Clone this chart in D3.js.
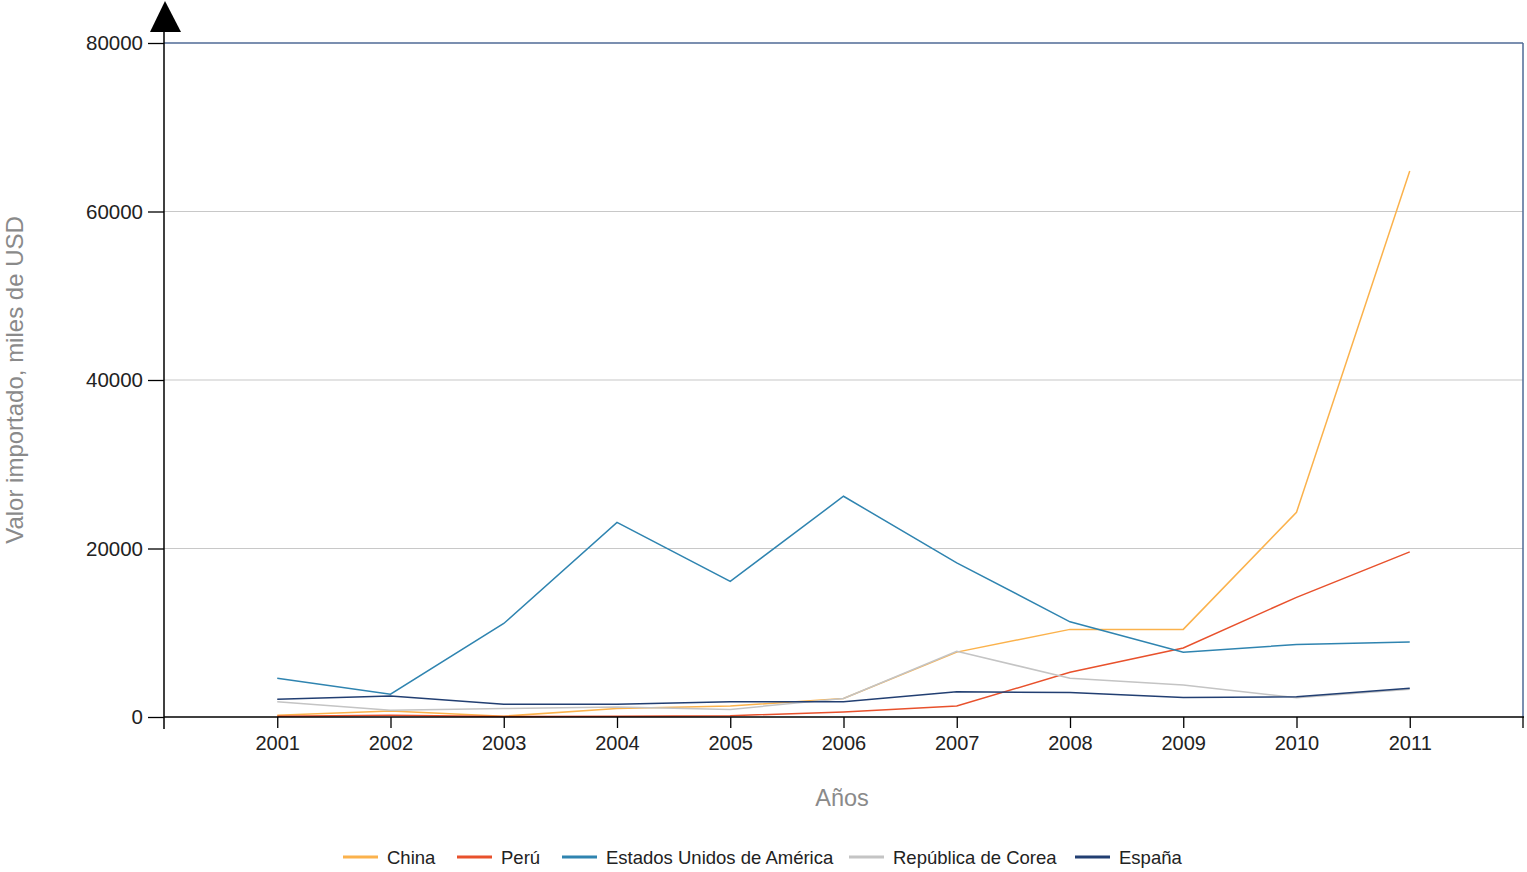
<!DOCTYPE html>
<html><head><meta charset="utf-8">
<script src="https://cdn.jsdelivr.net/npm/d3@7"></script>
<style>
body{margin:0;background:#fff;}
svg{display:block;font-family:"Liberation Sans",Arial,sans-serif;}
</style></head>
<body>
<svg id="c" width="1527" height="872"></svg>
<script>
const years = [2001,2002,2003,2004,2005,2006,2007,2008,2009,2010,2011];
const china = [200,700,100,1000,1300,2200,7700,10400,10400,24300,64800];
const peru = [100,200,50,100,150,600,1300,5300,8200,14200,19600];
const usa = [4600,2700,11100,23100,16100,26200,18300,11300,7700,8600,8900];
const corea = [1800,800,1000,1200,900,2200,7800,4600,3800,2300,3300];
const espana = [2100,2500,1500,1500,1800,1800,3000,2900,2300,2400,3400];
const seriesNames = ["China","Perú","Estados Unidos de América","República de Corea","España"];
const seriesColors = ["#fbb24c","#e8512c","#2f84b0","#c4c4c4","#223f72"];
const yTicks = [0,20000,40000,60000,80000];
const yTitle = "Valor importado, miles de USD";
const xTitle = "Años";

const seriesData = [china,peru,usa,corea,espana];
const svg = d3.select("#c");
const L=164,R=1523,T=43,B=717;
const x = d3.scaleLinear().domain([2000,2012]).range([L,R]);
const y = d3.scaleLinear().domain([0,80000]).range([B,T]);

// gridlines
svg.append("g").selectAll("line").data(yTicks.filter(d=>d>0&&d<80000)).join("line")
  .attr("x1",L).attr("x2",R).attr("y1",d=>y(d)).attr("y2",d=>y(d))
  .attr("stroke","#c8c8c8").attr("stroke-width",1.2);

// frame top/right
svg.append("line").attr("x1",L).attr("x2",R).attr("y1",T).attr("y2",T).attr("stroke","#4f6a96").attr("stroke-width",1.5);
svg.append("line").attr("x1",R).attr("x2",R).attr("y1",T).attr("y2",B).attr("stroke","#4f6a96").attr("stroke-width",1.5);

// lines
const line = d3.line().x((d,i)=>x(years[i])).y(d=>y(d));
seriesData.forEach((s,k)=>{
  svg.append("path").datum(s).attr("d",line).attr("fill","none")
    .attr("stroke",seriesColors[k]).attr("stroke-width",1.5);
});

// y axis
const yAxis = d3.axisLeft(y).tickValues(yTicks).tickSize(16).tickPadding(5).tickFormat(d3.format("d"));
const gy = svg.append("g").attr("transform",`translate(${L},0)`).call(yAxis);
gy.select(".domain").remove();
gy.selectAll(".tick line").attr("stroke","#000").attr("stroke-width",1.3);
gy.selectAll("text").attr("font-size",20.5).attr("fill","#222");
svg.append("line").attr("x1",L).attr("x2",L).attr("y1",30).attr("y2",729).attr("stroke","#000").attr("stroke-width",1.5);
svg.append("path").attr("d",`M${L+1},1 L${L-14},32 L${L+17},32 Z`).attr("fill","#000");

// x axis
const xAxis = d3.axisBottom(x).tickValues(years).tickSize(11).tickPadding(8).tickFormat(d3.format("d"));
const gx = svg.append("g").attr("transform",`translate(0,${B})`).call(xAxis);
gx.select(".domain").remove();
gx.selectAll(".tick line").attr("stroke","#000").attr("stroke-width",1.3);
gx.selectAll("text").attr("font-size",20).attr("fill","#222");
svg.append("line").attr("x1",L).attr("x2",R+1).attr("y1",B).attr("y2",B).attr("stroke","#000").attr("stroke-width",1.5);
svg.append("line").attr("x1",R).attr("x2",R).attr("y1",B).attr("y2",B+11).attr("stroke","#000").attr("stroke-width",1.3);

// titles
svg.append("text").attr("x",842).attr("y",806).attr("text-anchor","middle")
  .attr("font-size",23.5).attr("fill","#8a8a8a").text(xTitle);
svg.append("text").attr("transform","translate(23,380) rotate(-90)").attr("text-anchor","middle")
  .attr("font-size",24).attr("fill","#8a8a8a").text(yTitle);

// legend
const legendX = [343,457,562,849,1075];
const lg = svg.append("g");
seriesNames.forEach((n,k)=>{
  lg.append("line").attr("x1",legendX[k]).attr("x2",legendX[k]+35).attr("y1",857).attr("y2",857)
    .attr("stroke",seriesColors[k]).attr("stroke-width",3);
  lg.append("text").attr("x",legendX[k]+44).attr("y",864).attr("font-size",18.5).attr("fill","#222").text(n);
});
</script>
</body></html>
